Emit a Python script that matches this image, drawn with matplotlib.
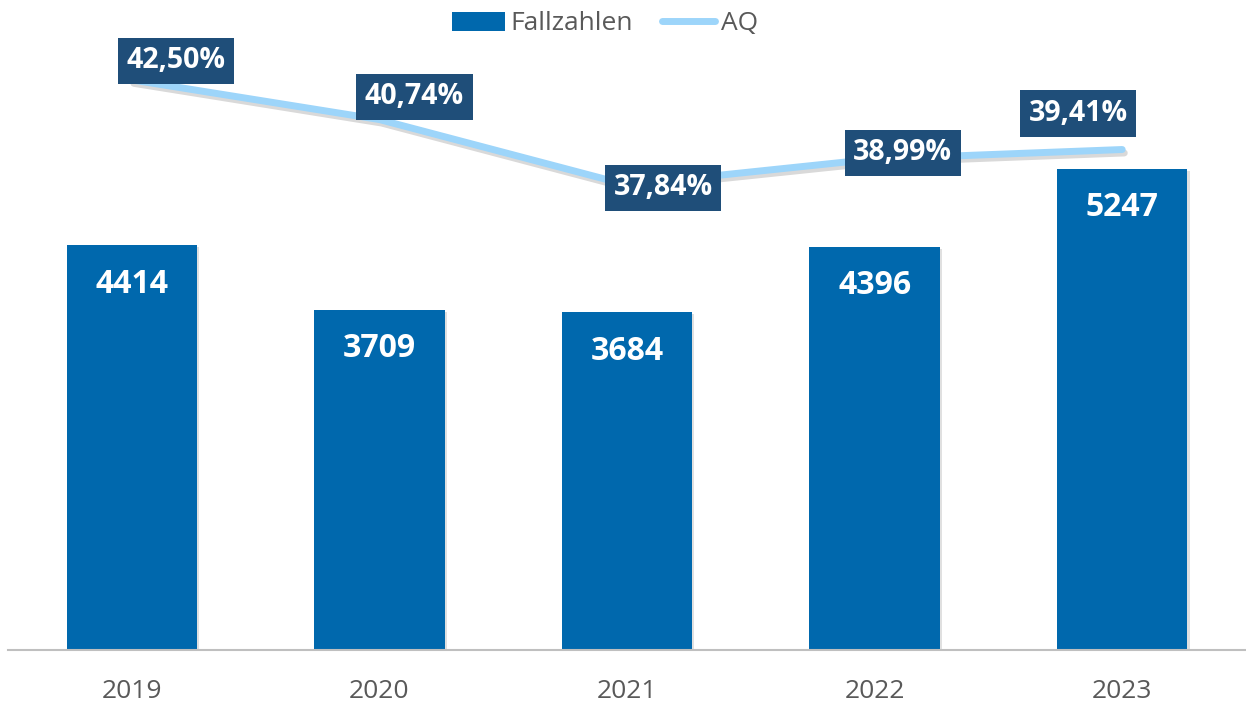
import matplotlib
matplotlib.use("Agg")
import matplotlib.pyplot as plt
import matplotlib.patheffects as pe
from matplotlib.patches import Patch
from matplotlib.lines import Line2D
import numpy as np

years = ["2019", "2020", "2021", "2022", "2023"]
fallzahlen = [4414, 3709, 3684, 4396, 5247]
aq = [42.50, 40.74, 37.84, 38.99, 39.41]
aq_labels = ["42,50%", "40,74%", "37,84%", "38,99%", "39,41%"]

# label offsets in pixels (dx, dy up) — style only
aq_offsets = [(44, 19), (35, 23), (36, -3), (28, 6), (-44, 36)]

BAR = "#0068AD"
LINE = "#9DD5FA"
BOX = "#1F4E79"
GREY = "#595959"
FONT = "Open Sans"

fig = plt.figure(figsize=(12.46, 7.06), dpi=100)
ax = fig.add_axes([8 / 1246, 56 / 706, 1238 / 1246, 610 / 706])
x = np.arange(len(years))

bars = ax.bar(x, fallzahlen, width=0.527, color=BAR, zorder=2)
for b in bars:
    b.set_path_effects([pe.SimplePatchShadow(offset=(1.5, -1.5), shadow_rgbFace="#000000", alpha=0.12), pe.Normal()])

ax.set_xlim(-0.5, len(years) - 0.5)
ax.set_ylim(0, 6650)
for s in ["top", "right", "left"]:
    ax.spines[s].set_visible(False)
ax.spines["bottom"].set_color("#BFBFBF")
ax.spines["bottom"].set_linewidth(1.5)
ax.set_yticks([])
ax.set_xticks(x)
ax.set_xticklabels(years, fontfamily=FONT, fontsize=19, color=GREY)
ax.tick_params(axis="x", length=0, pad=21)

for xi, v in zip(x, fallzahlen):
    ax.annotate(str(v), (xi, v), xytext=(0, -39 * 0.72), textcoords="offset points",
                ha="center", va="center", fontfamily=FONT, fontweight="bold",
                fontsize=23, color="white", zorder=5)

ax2 = ax.twinx()
ax2.set_ylim(17.2, 44.27)
ax2.axis("off")
ax2.plot(x, aq, color=LINE, lw=5, solid_capstyle="round", zorder=3,
         path_effects=[pe.SimpleLineShadow(offset=(1.5, -2.5), shadow_color="#000000", alpha=0.15), pe.Normal()])

for xi, v, lab, (dx, dy) in zip(x, aq, aq_labels, aq_offsets):
    ax2.annotate(lab, (xi, v), xytext=(dx * 0.72, dy * 0.72), textcoords="offset points",
                 ha="center", va="center", fontfamily=FONT, fontweight="bold",
                 fontsize=20.5, color="white", zorder=6,
                 bbox=dict(boxstyle="square,pad=0.3", fc=BOX, ec="none"))

handles = [Patch(facecolor=BAR, edgecolor="none"),
           Line2D([0], [0], color=LINE, lw=5, solid_capstyle="round")]
leg = fig.legend(handles, ["Fallzahlen", "AQ"], loc="center",
                 bbox_to_anchor=(605 / 1246, 1 - 24 / 706), ncol=2, frameon=False,
                 prop={"family": FONT, "size": 19}, handlelength=2.0, handleheight=0.7,
                 handletextpad=0.22, columnspacing=1.1, borderpad=0)
for t in leg.get_texts():
    t.set_color(GREY)

fig.savefig("out.png", dpi=100)
